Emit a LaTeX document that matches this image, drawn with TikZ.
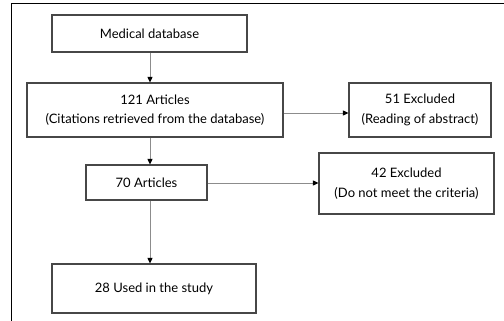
\documentclass[tikz,border=0pt]{standalone}
\usepackage{fontspec}
\setmainfont{Lato}
\usepackage{tikz}
\usetikzlibrary{arrows.meta}

\tikzset{
  box/.style={draw=black!72, line width=1.1pt, align=center, inner sep=2pt,
    font=\fontsize{13}{19.5}\selectfont},
  arr/.style={draw=black!45, line width=0.9pt,
    -{Triangle[length=5.5pt,width=5pt,color=black]}}
}

\begin{document}
\begin{tikzpicture}[x=1pt,y=-1pt]
  \useasboundingbox (0,0) rectangle (504,321);
  \draw[line width=1pt] (11.5,321) -- (11.5,3.5) -- (504,3.5);
  \node[box, minimum width=195pt, minimum height=37pt] (db) at (149.5,33.5) {Medical database};
  \node[box, minimum width=256pt, minimum height=54pt] (art121) at (155,110) {121 Articles\\(Citations retrieved from the database)};
  \node[box, minimum width=142pt, minimum height=54pt] (exc51) at (420,110) {51 Excluded\\(Reading of abstract)};
  \node[box, minimum width=121pt, minimum height=35pt] (art70) at (146.5,182.5) {70 Articles};
  \node[box, minimum width=175pt, minimum height=61pt] (exc42) at (406.5,183.5) {42 Excluded\\(Do not meet the criteria)};
  \node[box, minimum width=204pt, minimum height=49pt] (used) at (154,288.5) {28 Used in the study};
  % arrows
  \draw[arr] (150,0 |- db.south) -- (150,0 |- art121.north);
  \draw[arr] (150,0 |- art121.south) -- (150,0 |- art70.north);
  \draw[arr] (150,0 |- art70.south) -- (150,0 |- used.north);
  \draw[arr] (art121.east |- 0,113) -- (exc51.west |- 0,113);
  \draw[arr] (art70.east |- 0,183) -- (exc42.west |- 0,183);
\end{tikzpicture}
\end{document}
